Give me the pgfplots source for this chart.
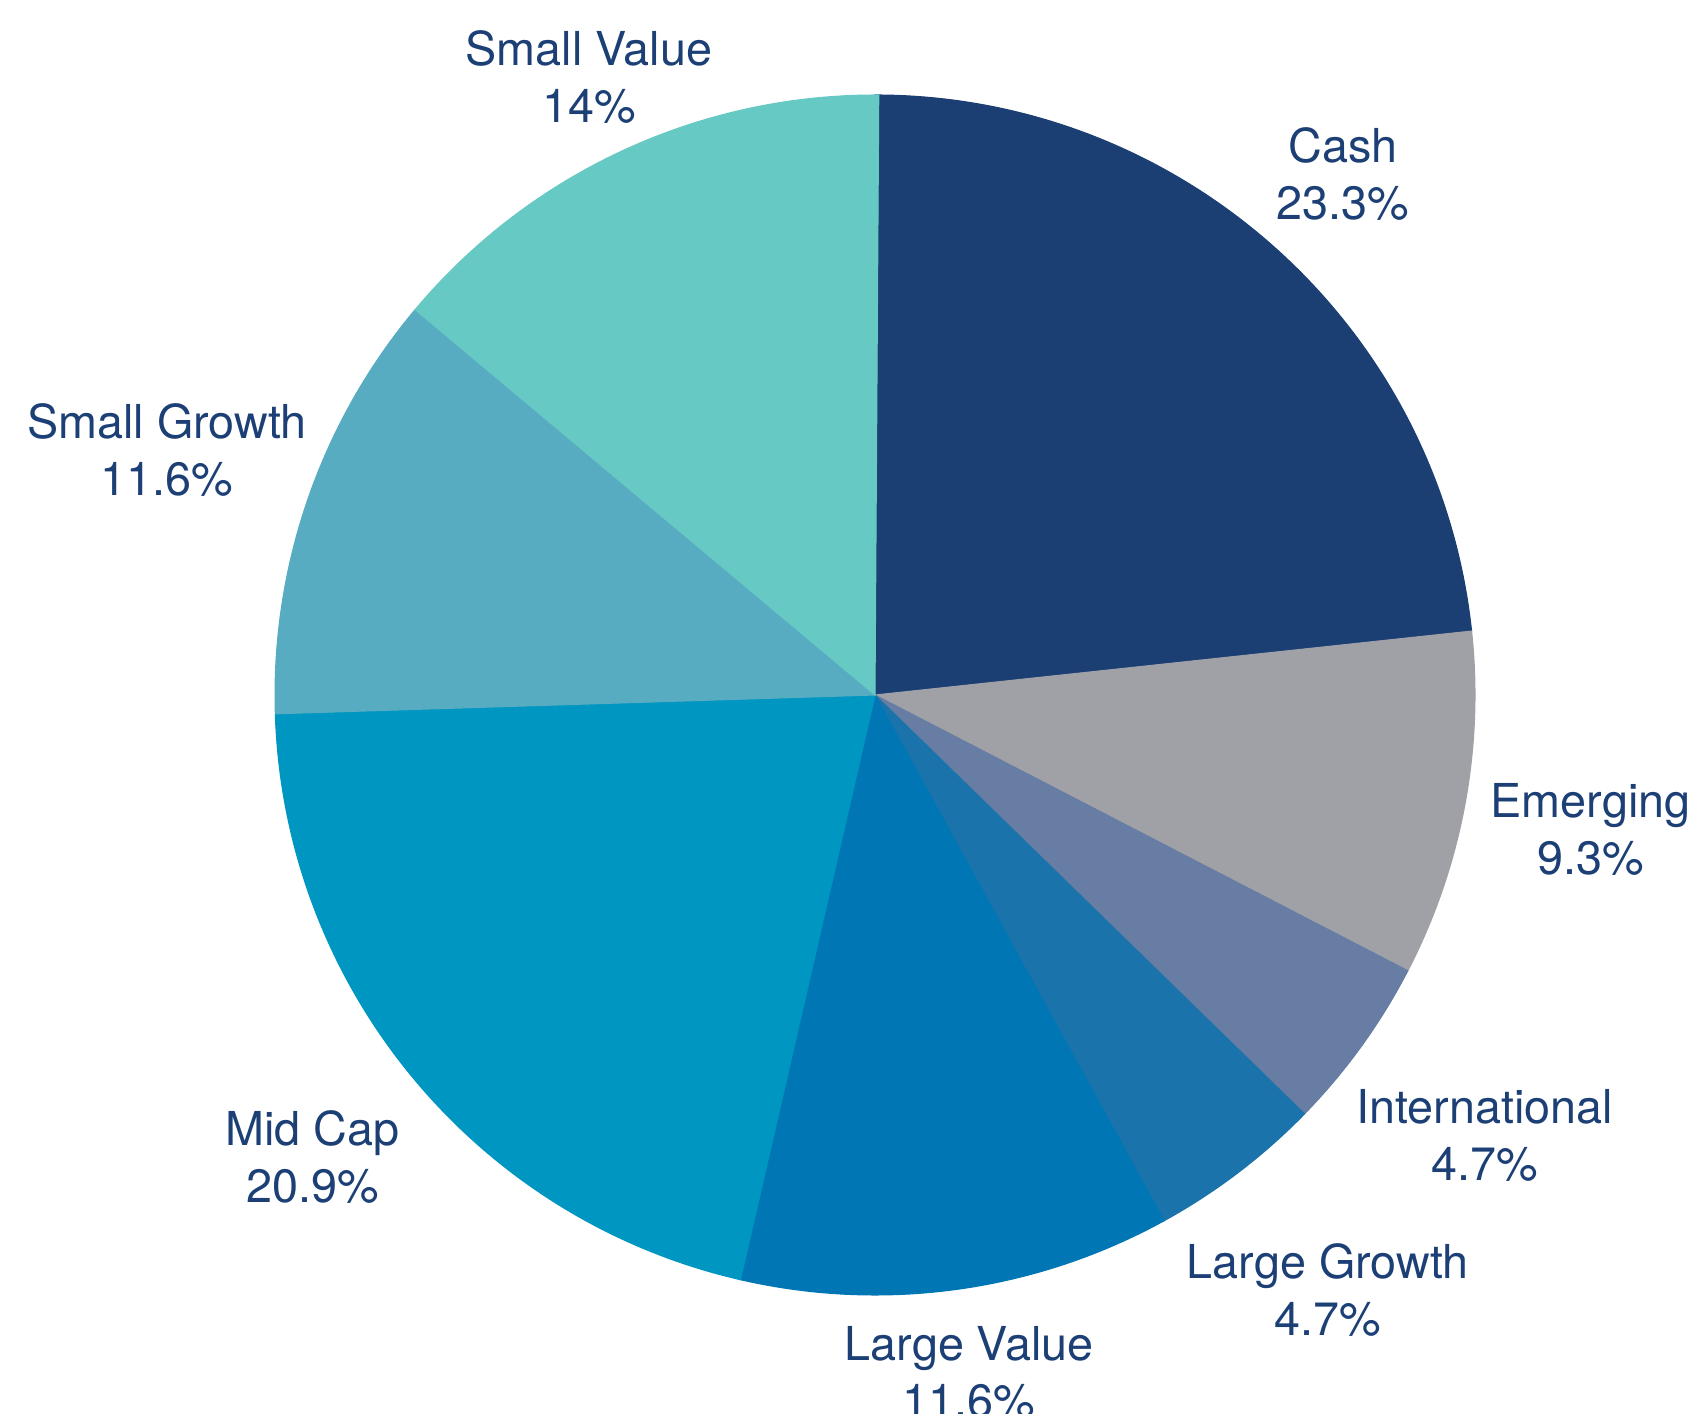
\documentclass[border=0pt]{standalone}
\usepackage{pgfplots}
\usepackage{pgfplotstable}
\pgfplotsset{compat=1.18}
\usepackage{fontspec}
\setmainfont{TeX Gyre Heros}

\definecolor{txt}{HTML}{1C3F75}
\definecolor{cCash}{HTML}{1B3E73}
\definecolor{cEm}{HTML}{A0A1A6}
\definecolor{cInt}{HTML}{677DA3}
\definecolor{cLG}{HTML}{1A73AA}
\definecolor{cLV}{HTML}{0077B4}
\definecolor{cMC}{HTML}{0096C2}
\definecolor{cSG}{HTML}{58ACC1}
\definecolor{cSV}{HTML}{67C9C4}

% share in percent, slice colour, distance of label from the centre
\pgfplotstableread[col sep=comma]{
name,value,color,lr
Cash,23.3,cCash,700
Emerging,9.3,cEm,728
International,4.7,cInt,752
Large Growth,4.7,cLG,748
Large Value,11.6,cLV,684
Mid Cap,20.9,cMC,728
Small Growth,11.6,cSG,749
Small Value,14,cSV,681
}\shares

\tikzset{lbl/.style={text=txt, align=center, font=\fontsize{13.3}{16.3}\selectfont}}

\begin{document}
\begin{tikzpicture}
\begin{axis}[
    hide axis,
    scale only axis,
    width=16.94cm, height=14.13cm,
    xmin=-875, xmax=819,
    ymin=-718, ymax=695,
    clip=false
]
\gdef\start{90}
\foreach \i in {0,...,7}{
    \pgfplotstablegetelem{\i}{value}\of\shares \let\v\pgfplotsretval
    \pgfplotstablegetelem{\i}{color}\of\shares \let\c\pgfplotsretval
    \pgfplotstablegetelem{\i}{name}\of\shares \let\n\pgfplotsretval
    \pgfplotstablegetelem{\i}{lr}\of\shares \let\lr\pgfplotsretval
    \pgfmathsetmacro\e{\start-3.6*\v}
    \pgfmathsetmacro\m{(\start+\e)/2}
    \edef\temp{%
      \noexpand\fill[\c, draw=\c, line width=0.3pt] (axis cs:0,0) -- (axis cs:{600*cos(\start)},{600*sin(\start)})
        arc[start angle=\start, end angle=\e, radius=6cm] -- cycle;
      \noexpand\node[lbl] at (axis cs:{\lr*cos(\m)},{\lr*sin(\m)}) {\n\noexpand\\\v\noexpand\%};
    }
    \temp
    \xdef\start{\e}
}
\end{axis}
\pgfresetboundingbox
\path (current axis.south west) rectangle (current axis.north east);
\end{tikzpicture}
\end{document}
